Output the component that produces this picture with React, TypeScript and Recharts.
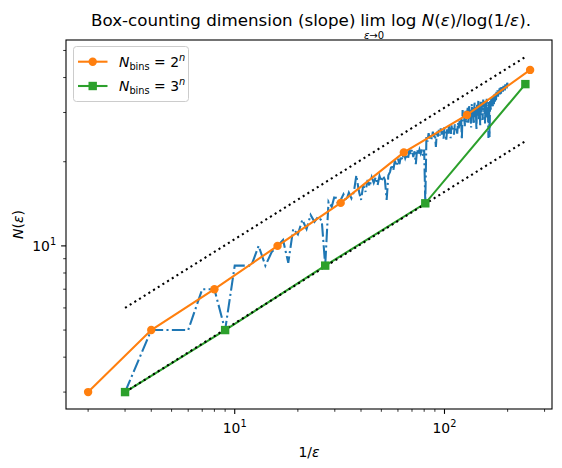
import { LineChart, Line, XAxis, YAxis } from 'recharts'

// box counts
const scale2X = [2, 4, 8, 16, 32, 64, 128, 256]
const scale2Y = [3, 5, 7, 10, 14.25, 21.6, 29.4, 42.6]

const scale3X = [3, 9, 27, 81, 243]
const scale3Y = [3, 5, 8.5, 14.2, 37.9]

const fitX = [3, 243]
const fitUpperY = [6, 47.4]
const fitLowerY = [3, 23.7]

// N(eps) for every integer 1/eps from 3 to 200
const allStart = 3
const allY = [
  3, 5, 5, 5, 7, 7, 5, 8.5, 8.5, 8.5,
  10, 8.5, 9.5, 10, 10.5, 8.7, 11.5, 11, 12.4, 11.5,
  12.9, 12.2, 12.7, 12.3, 8.5, 14.4, 13.8, 15.2, 14.2, 14.6,
  15.3, 14.5, 15.5, 14.8, 15.6, 17.9, 15.8, 14.6, 16.5, 15.6,
  17.2, 16.3, 17.6, 16.8, 17.6, 16.5, 17.8, 17.0, 17.8, 17.2,
  14.6, 17.9, 18.4, 19.5, 18.6, 20.2, 19.3, 20.5, 19.6, 21.0,
  20.3, 21.6, 20.6, 21.3, 20.4, 22.1, 21.2, 22.1, 20.8, 21.8,
  19.6, 22.1, 21.2, 22.1, 21.4, 22.1, 21.0, 22.1, 14.2, 24.5,
  23.6, 25.3, 24.2, 25.0, 24.1, 25.6, 24.5, 25.3, 22.6, 25.8,
  24.6, 26.0, 24.8, 26.3, 25.0, 26.0, 24.2, 26.6, 25.4, 24.0,
  26.2, 25.0, 26.8, 25.3, 24.3, 27.0, 25.8, 26.4, 25.0, 27.2,
  26.0, 26.6, 25.2, 27.6, 26.3, 28.0, 26.8, 28.6, 24.0, 30.6,
  28.4, 29.6, 26.8, 30.4, 27.5, 29.4, 31.2, 27.6, 32.0, 28.6,
  30.8, 26.5, 32.2, 29.0, 31.4, 27.2, 32.8, 29.6, 31.6, 26.0,
  32.4, 29.2, 33.0, 28.4, 31.8, 27.0, 33.2, 30.0, 32.0, 28.2,
  33.4, 30.2, 32.2, 27.4, 33.0, 29.6, 33.6, 28.8, 32.0, 24.3,
  32.8, 24.5, 33.0, 30.4, 33.6, 31.2, 34.0, 31.6, 34.4, 32.1,
  35.0, 32.8, 35.4, 33.2, 35.6, 33.8, 36.0, 34.2, 36.2, 34.5,
  36.6, 34.8, 36.8, 35.0, 37.0, 35.4, 37.2, 35.6, 37.4, 35.8,
  37.6, 36.0, 37.8, 36.4, 38.0, 36.6, 38.3, 37.8,
]

const xTicks = [2, 3, 4, 5, 6, 7, 8, 9, 10, 20, 30, 40, 50, 60, 70, 80, 90, 100, 200, 300]
const yTicks = [3, 4, 5, 6, 7, 8, 9, 10, 20, 30, 40, 50]
const majorTicks = [10, 100]

const zip = (xs: number[], ys: number[]) => xs.map((x, i) => ({ x, y: ys[i] }))
const allData = allY.map((y, i) => ({ x: allStart + i, y }))

const W = 562
const H = 468
const L = 66
const R = 552
const T = 40
const B = 409
const FONT = '"DejaVu Sans", sans-serif'

const BLUE = '#1f77b4'
const ORANGE = '#ff7f0e'
const GREEN = '#2ca02c'

function exponent(v: number) {
  return Math.round(Math.log10(v))
}

const XTick = (props: any) => {
  const { x, y, payload } = props
  const major = majorTicks.includes(payload.value)
  return (
    <g>
      <line x1={x} x2={x} y1={y} y2={y + (major ? 4.9 : 2.8)} stroke="#000" strokeWidth={major ? 1.1 : 0.8} />
      {major && (
        <text x={x} y={y + 24} textAnchor="middle" fontSize={13.9} fontFamily={FONT} fill="#000">
          10<tspan dy={-6} fontSize={9.8}>{exponent(payload.value)}</tspan>
        </text>
      )}
    </g>
  )
}

const YTick = (props: any) => {
  const { x, y, payload } = props
  const major = majorTicks.includes(payload.value)
  return (
    <g>
      <line x1={x} x2={x - (major ? 4.9 : 2.8)} y1={y} y2={y} stroke="#000" strokeWidth={major ? 1.1 : 0.8} />
      {major && (
        <text x={x - 9.8} y={y + 5} textAnchor="end" fontSize={13.9} fontFamily={FONT} fill="#000">
          10<tspan dy={-6} fontSize={9.8}>{exponent(payload.value)}</tspan>
        </text>
      )}
    </g>
  )
}

const SquareDot = (props: any) => {
  const { cx, cy, index } = props
  if (cx == null || cy == null) return <g key={index} />
  return <rect key={index} x={cx - 4.2} y={cy - 4.2} width={8.4} height={8.4} fill={GREEN} />
}

function Overlay() {
  return (
    <svg width={W} height={H} style={{ position: 'absolute', left: 0, top: 0, pointerEvents: 'none' }}>
      <rect x={L} y={T} width={R - L} height={B - T} fill="none" stroke="#000" strokeWidth={1.1} />
      {/* title in three pieces so that the limit subscript sits under "lim" */}
      <text x={91} y={26} fontSize={16.7} fontFamily={FONT} fill="#000">
        Box-counting dimension (slope)
      </text>
      <text x={373} y={26} textAnchor="middle" fontSize={16.7} fontFamily={FONT} fill="#000">
        lim
      </text>
      <text x={391} y={26} fontSize={16.7} fontFamily={FONT} fill="#000">
        log <tspan fontStyle="italic">N</tspan>(<tspan fontStyle="italic">ε</tspan>)/log(1/<tspan fontStyle="italic">ε</tspan>).
      </text>
      <text x={374} y={39} textAnchor="middle" fontSize={10} fontFamily={FONT} fill="#000">
        <tspan fontStyle="italic">ε</tspan>→0
      </text>
      <text x={309} y={457} textAnchor="middle" fontSize={13.9} fontFamily={FONT} fill="#000">
        1/<tspan fontStyle="italic">ε</tspan>
      </text>
      <text x={23} y={224.5} transform="rotate(-90 23 224.5)" textAnchor="middle" fontSize={13.9} fontFamily={FONT} fill="#000">
        <tspan fontStyle="italic">N</tspan>(<tspan fontStyle="italic">ε</tspan>)
      </text>
      <rect x={73.5} y={46.5} width={115} height={55} rx={3} fill="#fff" fillOpacity={0.8} stroke="#cccccc" strokeWidth={1} />
      <line x1={78} x2={107.5} y1={61.7} y2={61.7} stroke={ORANGE} strokeWidth={2.08} />
      <circle cx={92.7} cy={61.7} r={4.2} fill={ORANGE} />
      <line x1={78} x2={107.5} y1={86} y2={86} stroke={GREEN} strokeWidth={2.08} />
      <rect x={88.5} y={81.8} width={8.4} height={8.4} fill={GREEN} />
      <text x={119} y={66.5} fontSize={13.9} fontFamily={FONT} fill="#000">
        <tspan fontStyle="italic">N</tspan>
        <tspan dy={3} fontSize={9.8}>bins</tspan>
        <tspan dy={-3}> = 2</tspan>
        <tspan dy={-6} fontSize={9.8} fontStyle="italic">n</tspan>
      </text>
      <text x={119} y={91} fontSize={13.9} fontFamily={FONT} fill="#000">
        <tspan fontStyle="italic">N</tspan>
        <tspan dy={3} fontSize={9.8}>bins</tspan>
        <tspan dy={-3}> = 3</tspan>
        <tspan dy={-6} fontSize={9.8} fontStyle="italic">n</tspan>
      </text>
    </svg>
  )
}

export default function App() {
  return (
    <div style={{ position: 'absolute', left: 0, top: 0, width: W, height: H, background: '#fff', fontFamily: FONT }}>
      <LineChart width={W} height={H} margin={{ top: T, right: W - R, left: 0, bottom: 0 }}>
        <XAxis
          dataKey="x"
          type="number"
          scale="log"
          domain={[1.569, 325.5]}
          allowDataOverflow
          ticks={xTicks}
          tick={<XTick />}
          tickSize={0}
          tickMargin={0}
          tickLine={false}
          axisLine={false}
          height={H - B}
          interval={0}
        />
        <YAxis
          type="number"
          scale="log"
          domain={[2.61, 54.5]}
          allowDataOverflow
          ticks={yTicks}
          tick={<YTick />}
          tickSize={0}
          tickMargin={0}
          tickLine={false}
          axisLine={false}
          width={L}
          interval={0}
        />
        <Line data={allData} dataKey="y" type="linear" stroke={BLUE} strokeWidth={2.08} strokeDasharray="13.3 3.3 2.08 3.3" dot={false} isAnimationActive={false} />
        <Line data={zip(scale2X, scale2Y)} dataKey="y" type="linear" stroke={ORANGE} strokeWidth={2.08} dot={{ r: 4.2, fill: ORANGE, stroke: 'none', strokeWidth: 0 }} isAnimationActive={false} />
        <Line data={zip(scale3X, scale3Y)} dataKey="y" type="linear" stroke={GREEN} strokeWidth={2.08} dot={<SquareDot />} isAnimationActive={false} />
        <Line data={zip(fitX, fitUpperY)} dataKey="y" type="linear" stroke="#000" strokeWidth={2.08} strokeDasharray="2.08 3.44" dot={false} isAnimationActive={false} />
        <Line data={zip(fitX, fitLowerY)} dataKey="y" type="linear" stroke="#000" strokeWidth={2.08} strokeDasharray="2.08 3.44" dot={false} isAnimationActive={false} />
      </LineChart>
      <Overlay />
    </div>
  )
}
